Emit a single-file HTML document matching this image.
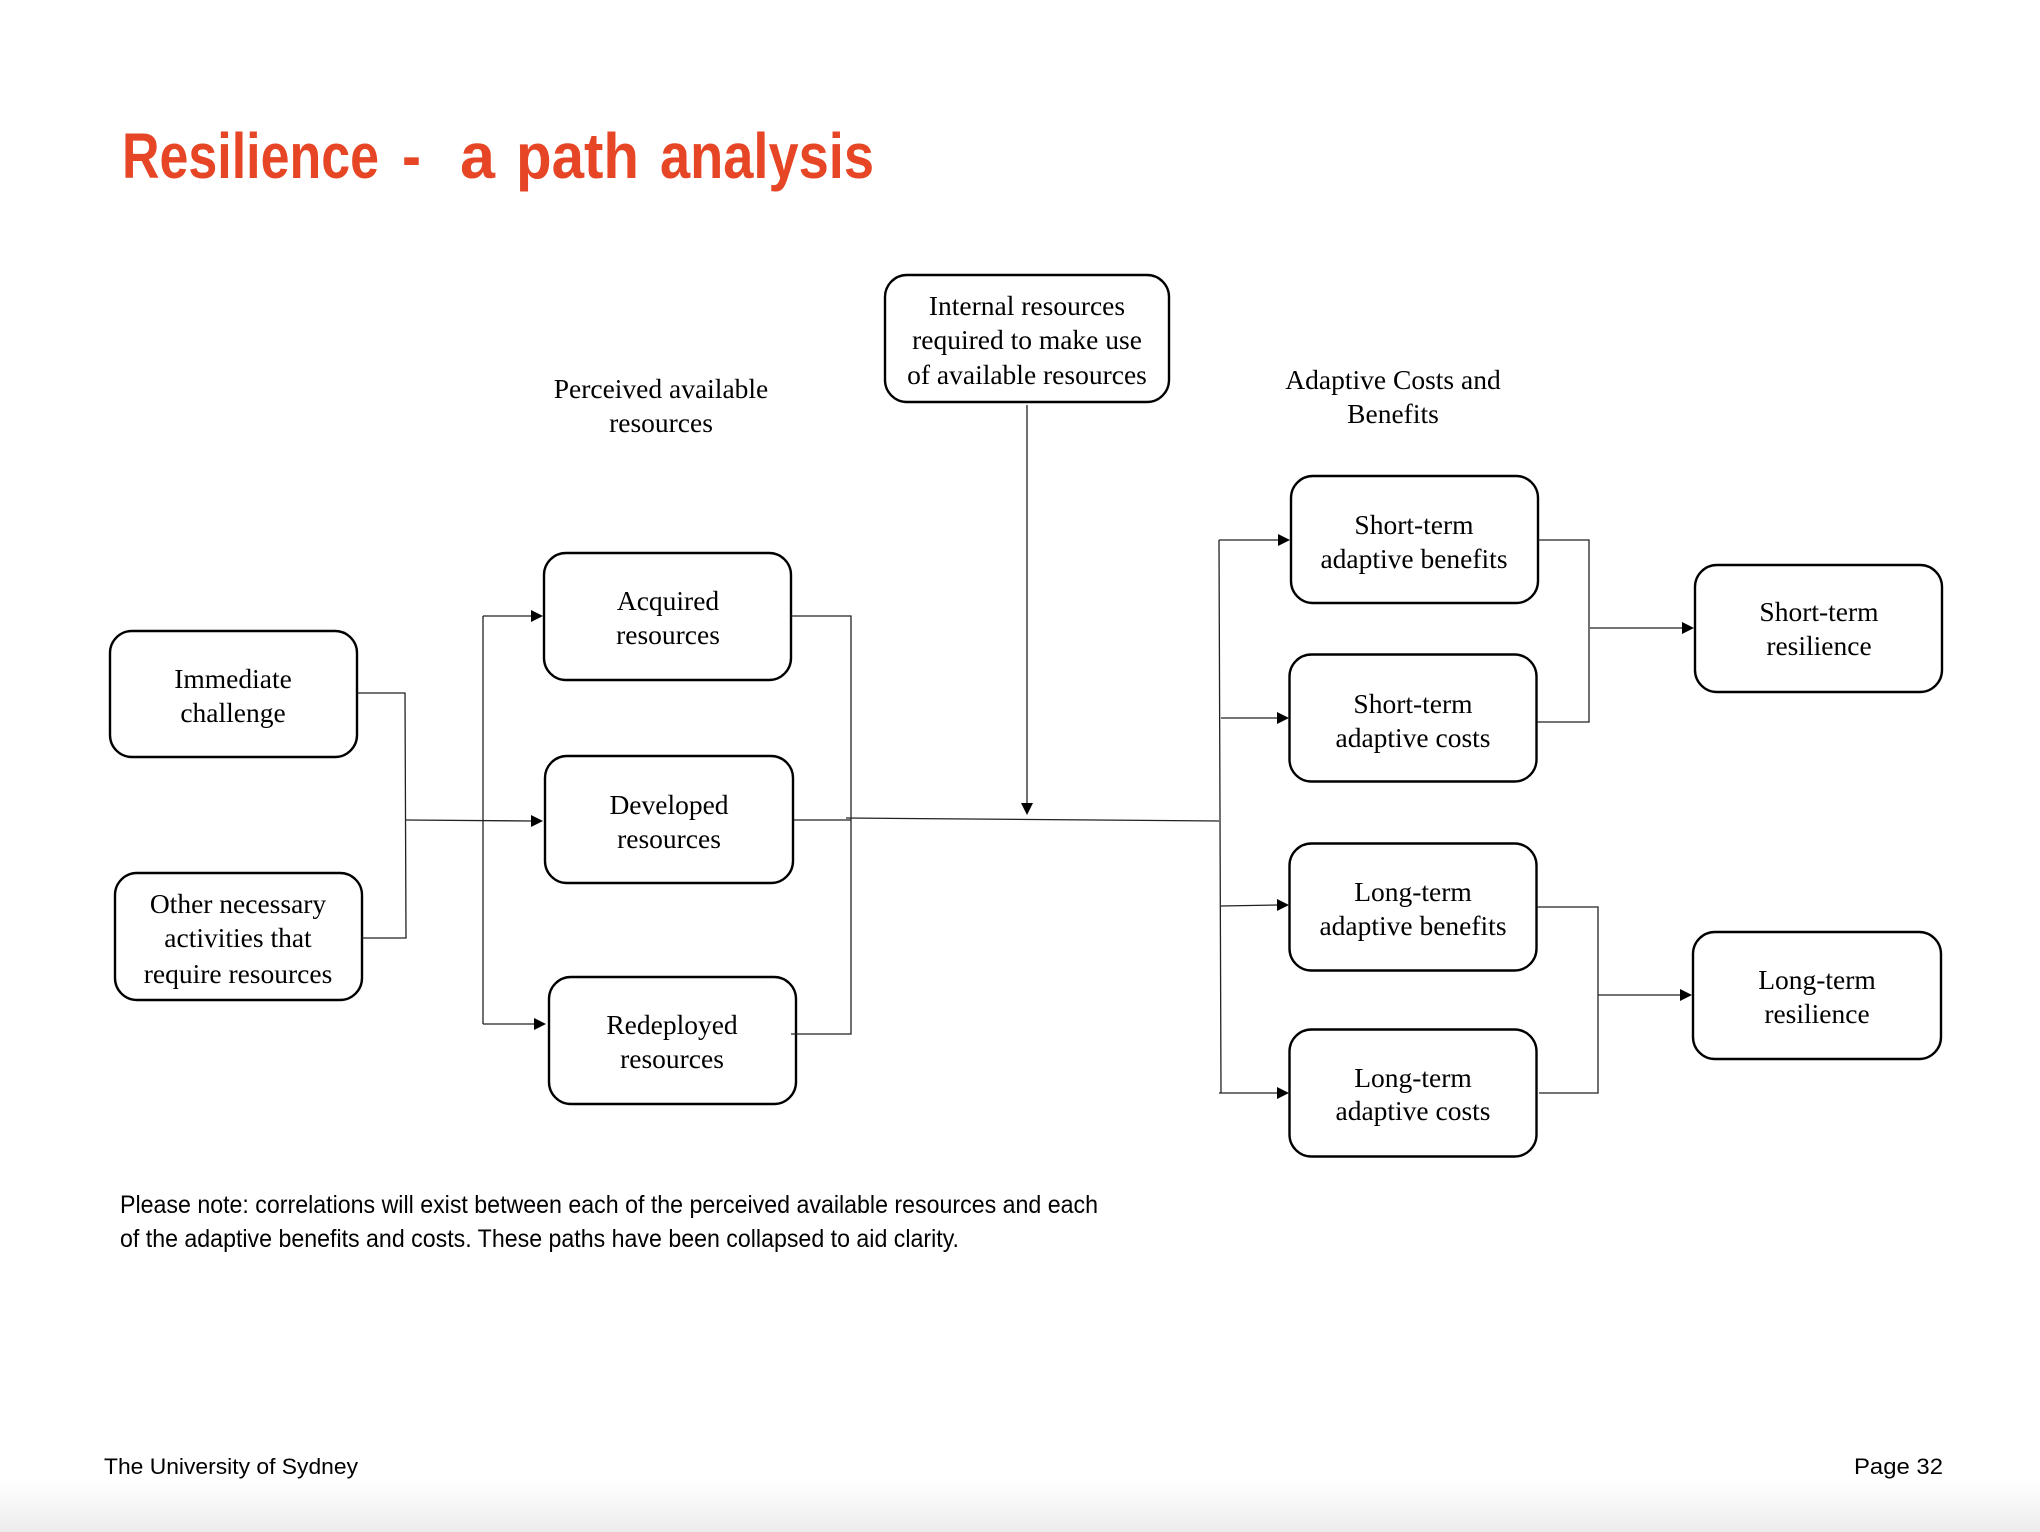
<!DOCTYPE html>
<html><head><meta charset="utf-8"><style>
html,body{margin:0;padding:0;background:#fff}
svg{display:block}
.s{font-family:"Liberation Serif",serif;font-size:27.5px;text-anchor:middle;fill:#000}
.b{fill:#fff;stroke:#000;stroke-width:2.4}
.l{fill:none;stroke:#222;stroke-width:1.3}
.a{fill:#000}
.c{font-family:"Liberation Sans",sans-serif;font-size:25px;fill:#000}
.f{font-family:"Liberation Sans",sans-serif;font-size:22px;fill:#000}
.t{font-family:"Liberation Sans",sans-serif;font-size:64px;font-weight:bold;fill:#e64626}
</style></head><body>
<svg width="2040" height="1532" viewBox="0 0 2040 1532" xmlns="http://www.w3.org/2000/svg">
<defs><linearGradient id="g" x1="0" y1="0" x2="0" y2="1"><stop offset="0" stop-color="#fff"/><stop offset="1" stop-color="#ececec"/></linearGradient></defs>
<rect width="2040" height="1532" fill="#fff"/>
<rect x="0" y="1480" width="2040" height="52" fill="url(#g)"/>
<text class="t" x="122" y="178" textLength="257" lengthAdjust="spacingAndGlyphs">Resilience</text>
<text class="t" x="402" y="178" textLength="19" lengthAdjust="spacingAndGlyphs">-</text>
<text class="t" x="460" y="178" textLength="35" lengthAdjust="spacingAndGlyphs">a</text>
<text class="t" x="516" y="178" textLength="123" lengthAdjust="spacingAndGlyphs">path</text>
<text class="t" x="660" y="178" textLength="214" lengthAdjust="spacingAndGlyphs">analysis</text>

<g>
<rect class="b" x="885" y="275" width="284" height="127" rx="22"/>
<rect class="b" x="110" y="631" width="247" height="126" rx="22"/>
<rect class="b" x="115" y="873" width="247" height="127" rx="22"/>
<rect class="b" x="544" y="553" width="247" height="127" rx="22"/>
<rect class="b" x="545" y="756" width="248" height="127" rx="22"/>
<rect class="b" x="549" y="977" width="247" height="127" rx="22"/>
<rect class="b" x="1291" y="476" width="247" height="127" rx="22"/>
<rect class="b" x="1289.5" y="654.5" width="247" height="127" rx="22"/>
<rect class="b" x="1289.5" y="843.5" width="247" height="127" rx="22"/>
<rect class="b" x="1289.5" y="1029.5" width="247" height="127" rx="22"/>
<rect class="b" x="1695" y="565" width="247" height="127" rx="22"/>
<rect class="b" x="1693" y="932" width="248" height="127" rx="22"/>
</g>

<g>
<path class="l" d="M358 693H405L406 938H362"/>
<path class="l" d="M406 820L532 821"/>
<path class="l" d="M483 616V1024M483 616H533M483 1024H536"/>
<path class="l" d="M791 616H851V1034H791M794 820H851"/>
<path class="l" d="M846 818L1219 821"/>
<path class="l" d="M1027 405V805"/>
<path class="l" d="M1219 540L1221 1093M1219 540H1279M1221 718H1279M1221 906L1279 905M1219 1093H1279"/>
<path class="l" d="M1538 540H1589V722H1537M1590 628H1684"/>
<path class="l" d="M1537 907H1598V1093H1539M1598 995H1682"/>
<polygon class="a" points="543,616 531,610 531,622"/>
<polygon class="a" points="543,821 531,815 531,827"/>
<polygon class="a" points="546,1024 534,1018 534,1030"/>
<polygon class="a" points="1027,815 1021,803 1033,803"/>
<polygon class="a" points="1290,540 1278,534 1278,546"/>
<polygon class="a" points="1289,718 1277,712 1277,724"/>
<polygon class="a" points="1289,905 1277,899 1277,911"/>
<polygon class="a" points="1289,1093 1277,1087 1277,1099"/>
<polygon class="a" points="1694,628 1682,622 1682,634"/>
<polygon class="a" points="1692,995 1680,989 1680,1001"/>
</g>

<g class="s">
<text class="s" x="661" y="398">Perceived available</text><text class="s" x="661" y="432">resources</text>
<text class="s" x="1393" y="389">Adaptive Costs and</text><text class="s" x="1393" y="423">Benefits</text>
<text class="s" x="1027" y="315">Internal resources</text><text class="s" x="1027" y="349">required to make use</text><text class="s" x="1027" y="384">of available resources</text>
<text class="s" x="233" y="688">Immediate</text><text class="s" x="233" y="722">challenge</text>
<text class="s" x="238" y="913">Other necessary</text><text class="s" x="238" y="947">activities that</text><text class="s" x="238" y="983">require resources</text>
<text class="s" x="668" y="610">Acquired</text><text class="s" x="668" y="644">resources</text>
<text class="s" x="669" y="814">Developed</text><text class="s" x="669" y="848">resources</text>
<text class="s" x="672" y="1034">Redeployed</text><text class="s" x="672" y="1068">resources</text>
<text class="s" x="1414" y="534">Short-term</text><text class="s" x="1414" y="568">adaptive benefits</text>
<text class="s" x="1413" y="713">Short-term</text><text class="s" x="1413" y="747">adaptive costs</text>
<text class="s" x="1413" y="901">Long-term</text><text class="s" x="1413" y="935">adaptive benefits</text>
<text class="s" x="1413" y="1087">Long-term</text><text class="s" x="1413" y="1120">adaptive costs</text>
<text class="s" x="1819" y="621">Short-term</text><text class="s" x="1819" y="655">resilience</text>
<text class="s" x="1817" y="989">Long-term</text><text class="s" x="1817" y="1023">resilience</text>
</g>

<text class="c" x="120" y="1213" textLength="978" lengthAdjust="spacingAndGlyphs">Please note: correlations will exist between each of the perceived available resources and each</text>
<text class="c" x="120" y="1247" textLength="839" lengthAdjust="spacingAndGlyphs">of the adaptive benefits and costs. These paths have been collapsed to aid clarity.</text>
<text class="f" x="104" y="1474" textLength="254" lengthAdjust="spacingAndGlyphs">The University of Sydney</text>
<text class="f" x="1854" y="1474" textLength="89" lengthAdjust="spacingAndGlyphs">Page 32</text>
</svg>
</body></html>
